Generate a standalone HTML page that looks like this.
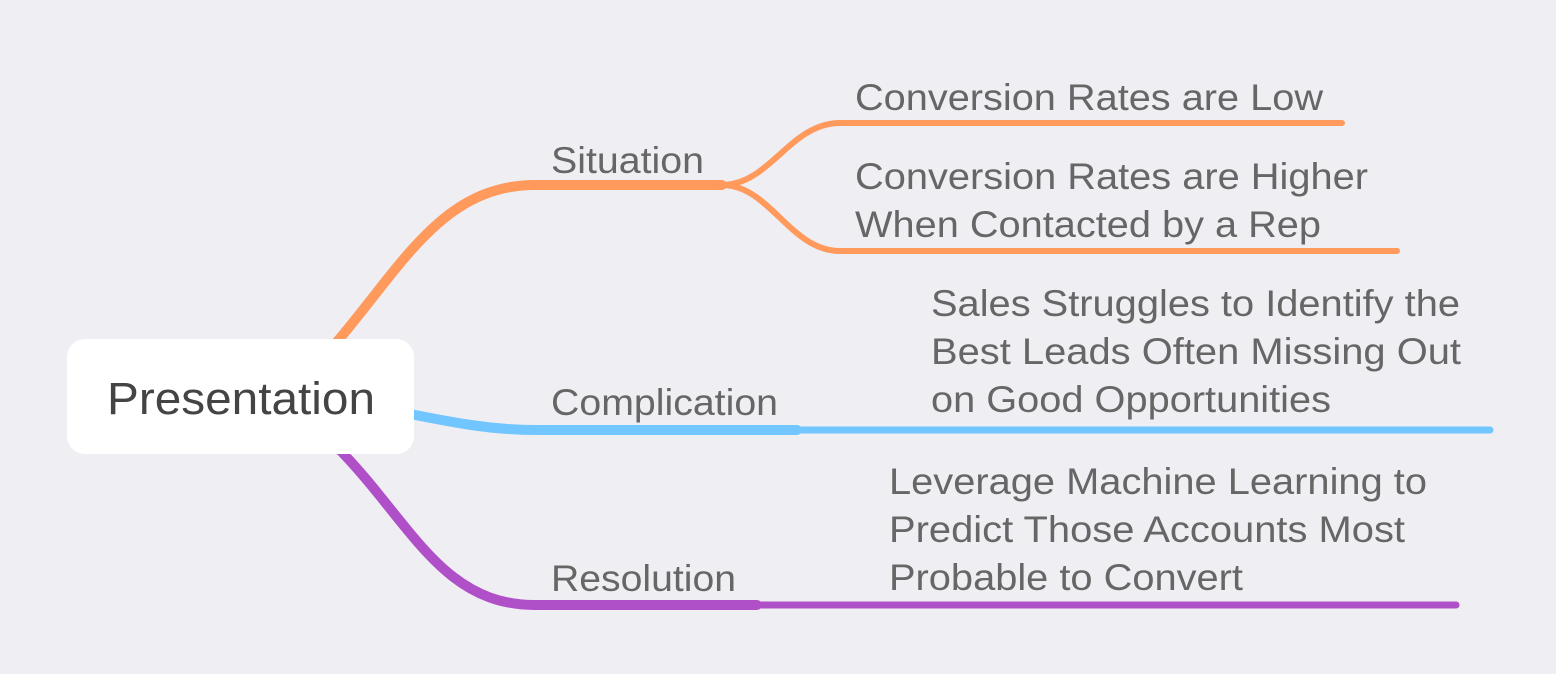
<!DOCTYPE html>
<html><head><meta charset="utf-8"><style>
html,body{margin:0;padding:0;background:#efeef3;}
svg{display:block}
text{font-family:"Liberation Sans",Arial,sans-serif;fill:#666;font-size:37px}
</style></head><body>
<svg width="1556" height="674" viewBox="0 0 1556 674" xmlns="http://www.w3.org/2000/svg">
<rect width="1556" height="674" fill="#efeef3"/>
<g fill="none" stroke-linecap="round">
<path d="M330 350 C 400 270, 440 185, 535 185 L 722 185" stroke="#ff995c" stroke-width="10"/>
<path d="M722 185 C 770 185, 790 123, 840 123 L 1342 123" stroke="#ff995c" stroke-width="6"/>
<path d="M722 185 C 770 185, 790 251, 840 251 L 1397 251" stroke="#ff995c" stroke-width="6"/>
<path d="M400 412 C 450 422, 490 430, 535 430 L 797 430" stroke="#72c6ff" stroke-width="10"/>
<path d="M790 430 L 1490 430" stroke="#72c6ff" stroke-width="7"/>
<path d="M335 445 C 410 520, 440 605, 535 605 L 757 605" stroke="#b050c8" stroke-width="10"/>
<path d="M750 605 L 1456 605" stroke="#b050c8" stroke-width="7"/>
</g>
<rect x="67" y="339" width="347" height="115" rx="18" fill="#fff"/>
<text x="107" y="414" textLength="268" lengthAdjust="spacingAndGlyphs" style="font-size:45px;fill:#444">Presentation</text>
<text x="551" y="173" textLength="153" lengthAdjust="spacingAndGlyphs">Situation</text>
<text x="551" y="415" textLength="227" lengthAdjust="spacingAndGlyphs">Complication</text>
<text x="551" y="591" textLength="185" lengthAdjust="spacingAndGlyphs">Resolution</text>
<text x="855" y="110" textLength="468" lengthAdjust="spacingAndGlyphs">Conversion Rates are Low</text>
<text x="855" y="189" textLength="513" lengthAdjust="spacingAndGlyphs">Conversion Rates are Higher</text>
<text x="855" y="237" textLength="466" lengthAdjust="spacingAndGlyphs">When Contacted by a Rep</text>
<text x="931" y="316" textLength="529" lengthAdjust="spacingAndGlyphs">Sales Struggles to Identify the</text>
<text x="931" y="364" textLength="530" lengthAdjust="spacingAndGlyphs">Best Leads Often Missing Out</text>
<text x="931" y="412" textLength="400" lengthAdjust="spacingAndGlyphs">on Good Opportunities</text>
<text x="889" y="494" textLength="538" lengthAdjust="spacingAndGlyphs">Leverage Machine Learning to</text>
<text x="889" y="542" textLength="516" lengthAdjust="spacingAndGlyphs">Predict Those Accounts Most</text>
<text x="889" y="590" textLength="354" lengthAdjust="spacingAndGlyphs">Probable to Convert</text>
</svg>
</body></html>
